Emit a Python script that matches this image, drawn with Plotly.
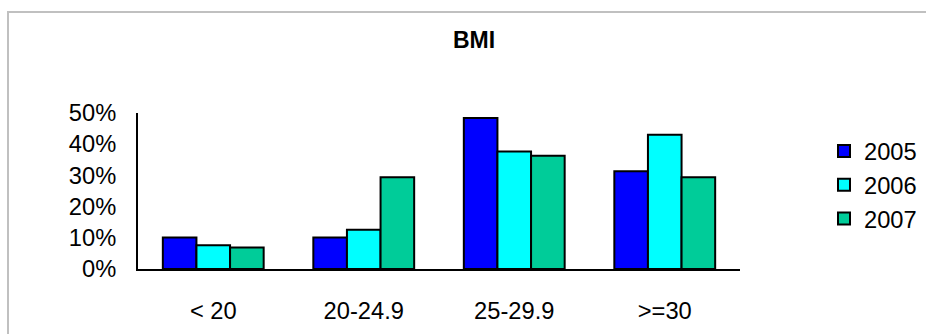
import plotly.graph_objects as go

categories = ["< 20", "20-24.9", "25-29.9", ">=30"]
years = ["2005", "2006", "2007"]
values_2005 = [0.101, 0.101, 0.484, 0.313]
values_2006 = [0.076, 0.126, 0.377, 0.430]
values_2007 = [0.069, 0.294, 0.363, 0.294]
colors = ["#0000FF", "#00FFFF", "#00CC99"]

W, H = 926, 334
L, R, T, B = 138, 740, 113, 269

FONT = "Liberation Sans, Arial, sans-serif"
FS = 23.7

fig = go.Figure()
for name, vals, col in zip(years, [values_2005, values_2006, values_2007], colors):
    fig.add_trace(go.Bar(
        x=categories, y=vals, name=name,
        marker=dict(color=col, line=dict(color="black", width=2)),
    ))

def px_x(p):
    return (p - L) / (R - L)

def px_y(p):
    return (B - p) / (B - T)

fig.update_layout(
    width=W, height=H,
    margin=dict(l=L, r=W - R, t=T, b=H - B, pad=0, autoexpand=False),
    paper_bgcolor="white", plot_bgcolor="white",
    barmode="group", bargap=0.33, bargroupgap=0,
    font=dict(family=FONT, size=FS, color="black"),
    title=dict(text="<b>BMI</b>", x=474 / W, xanchor="center",
               y=1 - 40 / H, yanchor="middle", xref="container", yref="container",
               font=dict(family=FONT, size=23, color="black")),
    xaxis=dict(showline=True, linecolor="black", linewidth=2, ticks="",
               showgrid=False, ticklabelstandoff=20, automargin=False,
               tickfont=dict(family=FONT, size=FS)),
    yaxis=dict(range=[0, 0.5], dtick=0.1, tickformat=".0%", showline=True,
               linecolor="black", linewidth=2, ticks="", showgrid=False,
               zeroline=False, ticklabelstandoff=15, automargin=False,
               tickfont=dict(family=FONT, size=FS)),
    legend=dict(x=px_x(824), xanchor="left", y=px_y(129), yanchor="top",
                font=dict(family=FONT, size=FS), tracegroupgap=0,
                bgcolor="rgba(0,0,0,0)"),
    shapes=[dict(type="rect", xref="paper", yref="paper",
                 x0=px_x(8), x1=px_x(960), y0=px_y(360), y1=px_y(12),
                 line=dict(color="#C0C0C0", width=2), layer="below")],
)

fig.write_html("out.html")
